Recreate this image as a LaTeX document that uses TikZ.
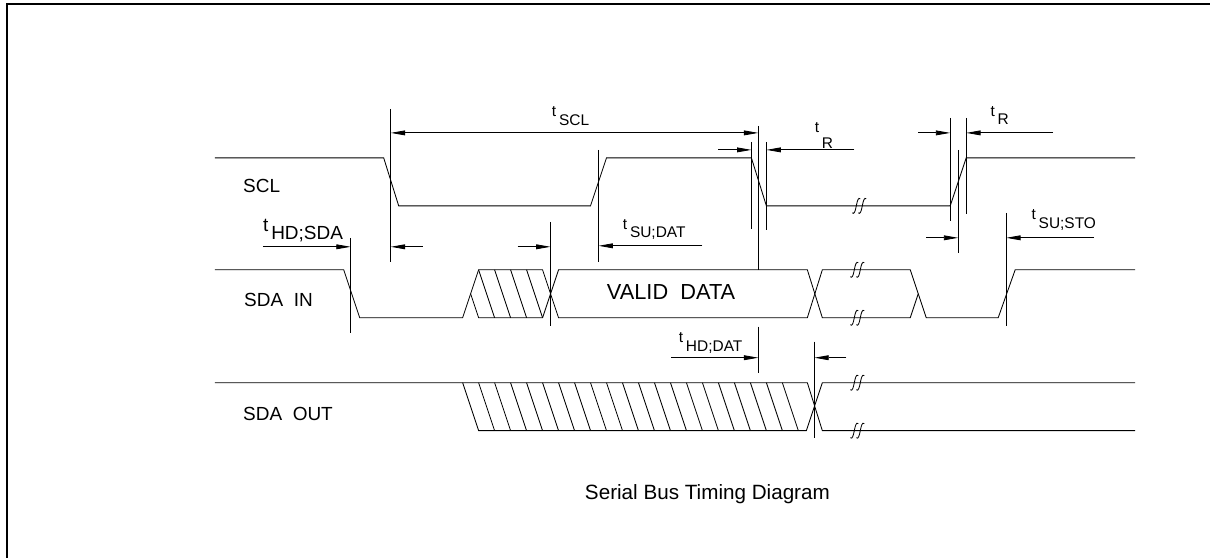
\documentclass[tikz,border=0pt]{standalone}
\usepackage{fontspec}
\setmainfont{Liberation Sans}
\usepackage{tikz}
\usetikzlibrary{arrows.meta, positioning, calc}

% time label: t followed by a lowered index
\newcommand{\tlbl}[2][6pt]{t\kern2pt\raisebox{-#1}{#2}}

\begin{document}
\begin{tikzpicture}[
    x=0.025cm, y=-0.025cm,
    >={Triangle[length=3.6mm,width=1.2mm]},
    line width=0.6pt,
    ext/.style={line width=0.6pt},
    dim/.style={->, line width=0.6pt},
    siglabel/.style={anchor=west, inner sep=0pt, font=\fontsize{13.5}{15}\selectfont},
    tlabel/.style={anchor=base west, inner sep=0pt, font=\fontsize{11}{13}\selectfont},
    brk/.pic={
        \draw[line width=0.6pt] (-7,7) .. controls (-5,9) and (-4,5) .. (-3,0)
            .. controls (-2,-5) and (-1,-9) .. (1,-7);
        \draw[line width=0.6pt] (-1,7) .. controls (1,9) and (2,5) .. (3,0)
            .. controls (4,-5) and (5,-9) .. (7,-7);
    }
]
    % --- 1. Page and frame ---
    \fill[white] (0,0) rectangle (1211,558);
    \draw[line width=1.4pt] (7,558) -- (7,4) -- (1211,4);

    % --- 2. Signal names ---
    \node[siglabel] (scl) at (243,186) {SCL};
    \node[siglabel] (sdain) at (244,300) {SDA\ \ IN};
    \node[siglabel] (sdaout) at (243,414) {SDA\ \ OUT};

    % --- 3. Waveforms ---
    % SCL
    \draw (215,158) -- (384,158) -- (399,206) -- (591,206) -- (607,158)
        -- (752,158) -- (767,206) -- (951,206) -- (967,158) -- (1136,158);
    \pic at (860,206) {brk};
    % SDA IN
    \draw (215,270) -- (344,270) -- (360,318) -- (463,318) -- (479,270)
        -- (543,270) -- (559,318) -- (808,318) -- (823,270) -- (911,270)
        -- (927,318) -- (999,318) -- (1016,270) -- (1136,270);
    \draw (471,294) -- (479,318) -- (543,318) -- (559,270) -- (808,270)
        -- (823,318) -- (911,318) -- (919,294);
    \foreach \x in {479,495,511,527}
        \draw (\x,270) -- (\x+16,318);
    \pic at (858,270) {brk};
    \pic at (858,318) {brk};
    \node[anchor=west, inner sep=0pt, font=\fontsize{15.5}{17}\selectfont]
        (valid) at (607,292) {VALID\ \ DATA};
    % SDA OUT
    \draw (215,383) -- (808,383) -- (823,431) -- (1136,431);
    \draw (463,383) -- (479,431) -- (807,431) -- (823,383) -- (1136,383);
    \foreach \k in {1,...,20}
        \draw ({463+16*\k},383) -- ({479+16*\k},431);
    \pic at (858,383) {brk};
    \pic at (858,431) {brk};

    % --- 4. Edge marks (extension lines) ---
    \coordinate (sdaF) at (351,0);
    \coordinate (sclF) at (391,0);
    \coordinate (sdaX) at (551,0);
    \coordinate (sclR) at (599,0);
    \coordinate (sclFa) at (752,0);
    \coordinate (sclP) at (759,0);
    \coordinate (sclFb) at (767,0);
    \coordinate (outX) at (815,0);
    \coordinate (sclRa) at (951,0);
    \coordinate (sclRm) at (959,0);
    \coordinate (sclRb) at (967,0);
    \coordinate (sdaR) at (1007,0);

    \draw[ext] (sdaF |- 0,238) -- (sdaF |- 0,333);
    \draw[ext] (sclF |- 0,109) -- (sclF |- 0,262);
    \draw[ext] (sdaX |- 0,222) -- (sdaX |- 0,326);
    \draw[ext] (sclR |- 0,150) -- (sclR |- 0,262);
    \draw[ext] (sclFa |- 0,142) -- (sclFa |- 0,229);
    \draw[ext] (sclP |- 0,126) -- (sclP |- 0,270);
    \draw[ext] (sclFb |- 0,142) -- (sclFb |- 0,230);
    \draw[ext] (sclP |- 0,327) -- (sclP |- 0,373);
    \draw[ext] (outX |- 0,342) -- (outX |- 0,438);
    \draw[ext] (sclRa |- 0,118) -- (sclRa |- 0,221);
    \draw[ext] (sclRb |- 0,118) -- (sclRb |- 0,214);
    \draw[ext] (sclRm |- 0,150) -- (sclRm |- 0,253);
    \draw[ext] (sdaR |- 0,213) -- (sdaR |- 0,326);

    % --- 5. Timing arrows ---
    % t_SCL
    \draw[<->, line width=0.6pt] (sclF |- 0,133) -- (sclP |- 0,133);
    \node[tlabel] (tscl) at (552,117) {\tlbl[6.4pt]{SCL}};
    % t_R (falling edge)
    \draw[dim] (719,150) -- (sclFa |- 0,150);
    \draw[dim] (855,150) -- (sclFb |- 0,150);
    \node[tlabel] (tr1) at (815,133) {\tlbl[11.3pt]{R}};
    % t_R (rising edge)
    \draw[dim] (919,133) -- (sclRa |- 0,133);
    \draw[dim] (1054,133) -- (sclRb |- 0,133);
    \node[tlabel] (tr2) at (991,117) {\tlbl[5.7pt]{R}};
    % t_HD;SDA
    \draw[dim] (263,247) -- (sdaF |- 0,247);
    \draw[dim] (423,247) -- (sclF |- 0,247);
    \node[tlabel, font=\fontsize{13.5}{15}\selectfont] (thdsda) at (263,232)
        {\tlbl[5.7pt]{HD;SDA}};
    % t_SU;DAT
    \draw[dim] (518,247) -- (sdaX |- 0,247);
    \draw[dim] (703,246) -- (sclR |- 0,246);
    \node[tlabel] (tsudat) at (623,230) {\tlbl[5.7pt]{SU;DAT}};
    % t_HD;DAT
    \draw[dim] (672,358) -- (sclP |- 0,358);
    \draw[dim] (847,358) -- (outX |- 0,358);
    \node[tlabel] (thddat) at (679,343) {\tlbl[6.4pt]{HD;DAT}};
    % t_SU;STO
    \draw[dim] (927,238) -- (sclRm |- 0,238);
    \draw[dim] (1095,238) -- (sdaR |- 0,238);
    \node[tlabel] (tsusto) at (1032,220) {\tlbl[6.4pt]{SU;STO}};

    % --- 6. Caption ---
    \node[inner sep=0pt, font=\fontsize{14.7}{16}\selectfont] (caption) at (708,495)
        {Serial Bus Timing Diagram};
\end{tikzpicture}
\end{document}
